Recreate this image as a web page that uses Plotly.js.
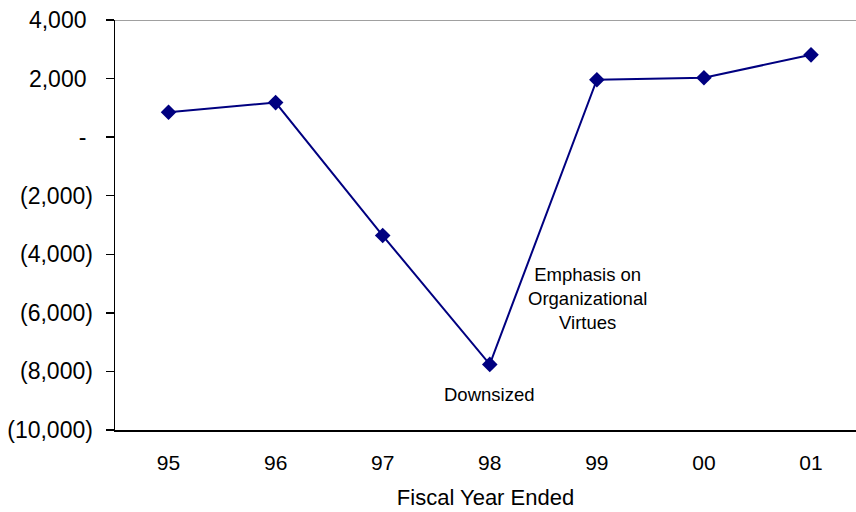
<!DOCTYPE html>
<html>
<head>
<meta charset="utf-8">
<script src="https://cdn.plot.ly/plotly-3.0.1.min.js"></script>
<style>html,body{margin:0;padding:0;background:#fff;overflow:hidden}#chart{width:856px;height:512px}</style>
</head>
<body>
<div id="chart"></div>
<script>
var years = ["95", "96", "97", "98", "99", "00", "01"];
var values = [850, 1180, -3360, -7760, 1960, 2030, 2810];
var yTickVals = [4000, 2000, 0, -2000, -4000, -6000, -8000, -10000];
var yTickText = ["4,000\u00a0", "2,000\u00a0", "-\u00a0", "(2,000)", "(4,000)", "(6,000)", "(8,000)", "(10,000)"];
var xTitle = "Fiscal Year Ended";
var noteDown = "Downsized";
var noteUp = "Emphasis on<br>Organizational<br>Virtues";

var font = "Liberation Sans, Arial, sans-serif";

var trace = {
  x: years,
  y: values,
  type: "scatter",
  mode: "lines+markers",
  line: {color: "#000080", width: 2},
  marker: {symbol: "diamond", size: 12, color: "#000080"},
  hoverinfo: "skip"
};

var layout = {
  width: 856,
  height: 512,
  margin: {l: 115, r: 0, t: 19.5, b: 82, pad: 0},
  paper_bgcolor: "#fff",
  plot_bgcolor: "#fff",
  showlegend: false,
  font: {family: font, color: "#000", size: 21},
  xaxis: {
    type: "category",
    range: [-0.5, 6.42],
    showgrid: false,
    zeroline: false,
    showline: true,
    linecolor: "#000",
    linewidth: 1.5,
    ticks: "",
    ticklabelstandoff: 13,
    tickfont: {family: font, size: 21, color: "#000"},
    title: {text: xTitle, font: {family: font, size: 22, color: "#000"}, standoff: 17}
  },
  yaxis: {
    range: [-10000, 4000],
    tickvals: yTickVals,
    ticktext: yTickText,
    showgrid: false,
    zeroline: false,
    showline: true,
    linecolor: "#000",
    linewidth: 1.5,
    ticks: "outside",
    ticklen: 8,
    tickwidth: 1.5,
    tickcolor: "#000",
    ticklabelstandoff: 8,
    tickfont: {family: font, size: 23, color: "#000"}
  },
  shapes: [{
    type: "line", xref: "paper", yref: "y",
    x0: 0, x1: 1, y0: 4000, y1: 4000,
    line: {color: "#808080", width: 1.5}
  }],
  annotations: [
    {x: years.indexOf("98"), y: values[3], xref: "x", yref: "y", text: noteDown, showarrow: false,
     yshift: -30, font: {family: font, size: 18.5, color: "#000"}},
    {x: years.indexOf("99"), y: -5500, xref: "x", yref: "y", text: noteUp, showarrow: false,
     xshift: -9, align: "center", font: {family: font, size: 18.5, color: "#000"}}
  ]
};

Plotly.newPlot("chart", [trace], layout, {staticPlot: true, displayModeBar: false});
</script>
</body>
</html>
